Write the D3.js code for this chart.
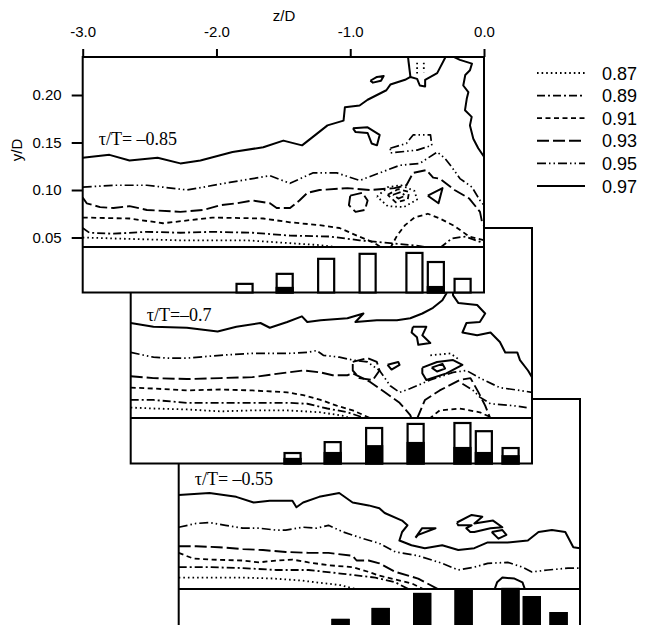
<!DOCTYPE html>
<html><head><meta charset="utf-8">
<script src="https://cdn.jsdelivr.net/npm/d3@7"></script>
<style>body{margin:0;background:#fff}</style>
</head><body><svg id="c" width="656" height="625"></svg>
<script>
// ---------- data ----------
const levels = [0.87, 0.89, 0.91, 0.93, 0.95, 0.97];
const panelLabels = ["\u03C4/T= \u20130.85", "\u03C4/T=\u20130.7", "\u03C4/T= \u20130.55"];
const xTicks = [-3, -2, -1, 0];
const yTicks = [0.05, 0.10, 0.15, 0.20];
const barZ = [-1.79, -1.49, -1.18, -0.87, -0.52, -0.36, -0.16];
const barTotal085 = [0.19, 0.41, 0.74, 0.85, 0.87, 0.67, 0.30];
const barBlack085 = [0.00, 0.10, 0.00, 0.00, 0.00, 0.12, 0.00];
const barTotal070 = [0.23, 0.47, 0.78, 0.87, 0.89, 0.71, 0.34];
const barBlack070 = [0.10, 0.23, 0.38, 0.45, 0.34, 0.23, 0.16];
const barTotal055 = [0.32, 0.56, 0.89, 0.96, 1.00, 0.82, 0.47];
const barBlack055 = [0.32, 0.56, 0.89, 0.96, 1.00, 0.82, 0.47];

const contours085 = [
 {lv:0.97, pts:[[-3.0,0.134],[-2.80,0.137],[-2.65,0.131],[-2.44,0.134],[-2.27,0.128],[-2.12,0.131],[-1.88,0.140],[-1.65,0.145],[-1.50,0.152],[-1.36,0.147],[-1.26,0.158],[-1.17,0.168],[-1.05,0.173],[-1.04,0.187],[-0.93,0.189],[-0.87,0.195],[-0.73,0.205],[-0.70,0.211],[-0.59,0.216],[-0.55,0.219],[-0.50,0.217],[-0.48,0.210],[-0.44,0.209],[-0.44,0.216],[-0.35,0.223],[-0.28,0.242]]},
 {lv:0.97, pts:[[-0.55,0.219],[-0.57,0.242]]},
 {lv:0.97, pts:[[-0.254,0.242],[-0.18,0.237],[-0.09,0.233],[-0.105,0.226],[-0.14,0.221],[-0.155,0.210],[-0.117,0.203],[-0.129,0.196],[-0.142,0.184],[-0.092,0.177],[-0.105,0.168],[-0.08,0.154],[-0.043,0.144],[0.0,0.135]]},
 {lv:0.97, closed:true, pts:[[-0.85,0.215],[-0.80,0.219],[-0.75,0.220],[-0.77,0.215],[-0.83,0.213]]},
 {lv:0.97, closed:true, pts:[[-0.98,0.165],[-0.87,0.166],[-0.78,0.158],[-0.80,0.147],[-0.84,0.149],[-0.87,0.160],[-0.96,0.161]]},
 {lv:0.97, closed:true, pts:[[-0.42,0.094],[-0.31,0.102],[-0.34,0.086]]},
 {lv:0.95, pts:[[-3.0,0.103],[-2.77,0.105],[-2.52,0.105],[-2.22,0.100],[-1.90,0.108],[-1.60,0.115],[-1.45,0.107],[-1.28,0.118],[-1.10,0.118],[-0.93,0.110],[-0.78,0.118],[-0.63,0.126],[-0.48,0.128],[-0.35,0.140],[-0.29,0.133],[-0.24,0.124],[-0.18,0.112],[-0.09,0.103],[-0.03,0.089],[0.0,0.084]]},
 {lv:0.95, closed:true, pts:[[-0.70,0.144],[-0.58,0.149],[-0.53,0.158],[-0.40,0.158],[-0.39,0.147],[-0.50,0.142],[-0.70,0.139]]},
 {lv:0.93, pts:[[-3.0,0.092],[-2.97,0.086],[-2.87,0.082],[-2.77,0.081],[-2.65,0.083],[-2.52,0.079],[-2.27,0.077],[-2.10,0.079],[-1.97,0.084],[-1.85,0.086],[-1.73,0.089],[-1.60,0.086],[-1.55,0.081],[-1.45,0.081],[-1.38,0.089],[-1.32,0.097],[-1.23,0.100],[-1.02,0.102],[-0.85,0.100],[-0.67,0.102],[-0.58,0.105],[-0.53,0.118],[-0.43,0.121],[-0.38,0.113],[-0.33,0.112],[-0.22,0.100],[-0.11,0.091],[-0.03,0.077],[-0.01,0.063]]},
 {lv:0.93, closed:true, pts:[[-1.00,0.094],[-0.91,0.097],[-0.87,0.089],[-0.89,0.079],[-0.96,0.077],[-1.01,0.084]]},
 {lv:0.91, pts:[[-3.0,0.071],[-2.65,0.070],[-2.40,0.065],[-2.03,0.071],[-1.65,0.070],[-1.45,0.066],[-1.23,0.063],[-1.08,0.060],[-0.95,0.052],[-0.83,0.045],[-0.76,0.039]]},
 {lv:0.91, pts:[[-0.70,0.039],[-0.65,0.052],[-0.59,0.063],[-0.52,0.071],[-0.42,0.075],[-0.33,0.070],[-0.22,0.062],[-0.11,0.051],[0.0,0.047]]},
 {lv:0.91, closed:true, pts:[[-0.72,0.095],[-0.64,0.101],[-0.56,0.098],[-0.57,0.090],[-0.66,0.087]]},
 {lv:0.89, pts:[[-3.0,0.060],[-2.95,0.055],[-2.77,0.054],[-2.52,0.056],[-2.27,0.055],[-2.03,0.056],[-1.73,0.055],[-1.45,0.052],[-1.15,0.051],[-0.93,0.047],[-0.70,0.044],[-0.48,0.041],[-0.40,0.039]]},
 {lv:0.89, pts:[[-0.33,0.039],[-0.24,0.049],[-0.14,0.051],[0.0,0.044]]},
 {lv:0.89, closed:true, pts:[[-0.68,0.095],[-0.62,0.098],[-0.59,0.094],[-0.64,0.091]]},
 {lv:0.87, pts:[[-3.0,0.050],[-2.77,0.049],[-2.52,0.048],[-2.27,0.047],[-2.03,0.047],[-1.77,0.047],[-1.45,0.044],[-1.23,0.042],[-1.04,0.039]]},
 {lv:0.87, closed:true, pts:[[-0.80,0.093],[-0.72,0.103],[-0.62,0.105],[-0.52,0.099],[-0.50,0.090],[-0.60,0.082],[-0.72,0.083]]},
 {lv:0.87, pts:[[-0.50,0.234],[-0.50,0.222]]},
 {lv:0.87, pts:[[-0.45,0.234],[-0.45,0.224]]}
];

const contours070 = [
 {lv:0.97, pts:[[-3.0,0.140],[-2.83,0.136],[-2.58,0.135],[-2.35,0.131],[-2.21,0.136],[-2.03,0.140],[-1.96,0.135],[-1.83,0.141],[-1.72,0.147],[-1.68,0.141],[-1.58,0.143],[-1.38,0.145],[-1.26,0.150],[-1.32,0.141],[-1.16,0.143],[-1.01,0.143],[-0.91,0.145],[-0.82,0.150],[-0.74,0.156],[-0.67,0.164],[-0.64,0.171],[-0.62,0.20]]},
 {lv:0.97, pts:[[-0.60,0.20],[-0.59,0.169],[-0.55,0.161],[-0.41,0.159],[-0.35,0.150],[-0.39,0.141],[-0.49,0.140],[-0.52,0.130],[-0.41,0.127],[-0.31,0.130],[-0.24,0.120],[-0.20,0.109],[-0.11,0.109],[-0.09,0.101],[-0.03,0.090],[0.0,0.083]]},
 {lv:0.97, closed:true, pts:[[-0.89,0.136],[-0.79,0.136],[-0.82,0.127],[-0.76,0.119],[-0.85,0.117],[-0.86,0.125],[-0.90,0.130]]},
 {lv:0.97, closed:true, pts:[[-1.08,0.096],[-1.00,0.099],[-0.99,0.096],[-1.05,0.091]]},
 {lv:0.97, closed:true, pts:[[-0.82,0.093],[-0.71,0.099],[-0.59,0.101],[-0.52,0.096],[-0.64,0.087],[-0.79,0.080],[-0.82,0.087]]},
 {lv:0.97, closed:true, pts:[[-0.75,0.093],[-0.67,0.097],[-0.65,0.092],[-0.71,0.089]]},
 {lv:0.87, pts:[[-0.76,0.106],[-0.61,0.108],[-0.54,0.101]]},
 {lv:0.95, pts:[[-3.0,0.109],[-2.83,0.104],[-2.71,0.103],[-2.58,0.103],[-2.33,0.106],[-2.09,0.108],[-1.83,0.108],[-1.68,0.109],[-1.61,0.111],[-1.56,0.106],[-1.44,0.104],[-1.34,0.101],[-1.23,0.099],[-1.14,0.090],[-1.06,0.074],[-0.99,0.067],[-0.91,0.071],[-0.76,0.080],[-0.59,0.088],[-0.49,0.090],[-0.39,0.082],[-0.24,0.072],[-0.09,0.069],[0.0,0.067]]},
 {lv:0.95, pts:[[-0.52,0.076],[-0.44,0.069],[-0.39,0.062],[-0.31,0.055],[-0.14,0.053],[-0.04,0.051]]},
 {lv:0.93, closed:true, pts:[[-1.34,0.099],[-1.23,0.103],[-1.16,0.099],[-1.14,0.090],[-1.19,0.080],[-1.29,0.082],[-1.34,0.090]]},
 {lv:0.93, pts:[[-3.0,0.084],[-2.83,0.082],[-2.58,0.081],[-2.33,0.082],[-2.09,0.083],[-1.88,0.087],[-1.71,0.090],[-1.58,0.088],[-1.49,0.085],[-1.38,0.085],[-1.34,0.087],[-1.21,0.078],[-1.10,0.067],[-0.99,0.056],[-0.91,0.043],[-0.90,0.039]]},
 {lv:0.93, pts:[[-0.86,0.039],[-0.80,0.059],[-0.69,0.069],[-0.54,0.080],[-0.46,0.082],[-0.40,0.067],[-0.35,0.053],[-0.31,0.039]]},
 {lv:0.91, pts:[[-3.0,0.072],[-2.83,0.071],[-2.58,0.069],[-2.33,0.070],[-2.09,0.069],[-1.83,0.067],[-1.71,0.064],[-1.58,0.059],[-1.46,0.053],[-1.34,0.048],[-1.21,0.040],[-1.19,0.039]]},
 {lv:0.91, pts:[[-0.77,0.039],[-0.69,0.048],[-0.54,0.050],[-0.39,0.046],[-0.28,0.039]]},
 {lv:0.89, pts:[[-3.0,0.059],[-2.83,0.059],[-2.58,0.056],[-2.33,0.056],[-2.09,0.056],[-1.83,0.056],[-1.68,0.055],[-1.53,0.050],[-1.38,0.046],[-1.25,0.040],[-1.23,0.039]]},
 {lv:0.87, pts:[[-3.0,0.051],[-2.83,0.050],[-2.58,0.049],[-2.33,0.047],[-2.09,0.048],[-1.83,0.048],[-1.58,0.046],[-1.40,0.042],[-1.35,0.039]]}
];

const contours055 = [
 {lv:0.97, pts:[[-3.0,0.139],[-2.77,0.141],[-2.57,0.137],[-2.44,0.131],[-2.32,0.133],[-2.15,0.133],[-2.12,0.126],[-2.07,0.131],[-1.95,0.137],[-1.80,0.141],[-1.70,0.131],[-1.58,0.128],[-1.50,0.125],[-1.46,0.120],[-1.33,0.112],[-1.29,0.107],[-1.33,0.100],[-1.35,0.091],[-1.26,0.086],[-1.16,0.083],[-1.03,0.086],[-0.91,0.081],[-0.79,0.083],[-0.69,0.089],[-0.54,0.089],[-0.39,0.091],[-0.31,0.100],[-0.21,0.102],[-0.11,0.100],[-0.05,0.084],[0.0,0.083]]},
 {lv:0.97, closed:true, pts:[[-1.23,0.094],[-1.18,0.104],[-1.08,0.104],[-1.21,0.097]]},
 {lv:0.97, closed:true, pts:[[-0.92,0.110],[-0.81,0.118],[-0.73,0.116],[-0.79,0.109],[-0.65,0.112],[-0.58,0.105],[-0.67,0.104],[-0.79,0.100],[-0.82,0.100],[-0.85,0.104],[-0.81,0.107],[-0.91,0.107]]},
 {lv:0.97, closed:true, pts:[[-0.66,0.100],[-0.58,0.102],[-0.55,0.097],[-0.61,0.093]]},
 {lv:0.97, pts:[[-0.64,0.039],[-0.62,0.047],[-0.58,0.052],[-0.49,0.051],[-0.43,0.047],[-0.41,0.039]]},
 {lv:0.95, pts:[[-3.0,0.105],[-2.87,0.109],[-2.77,0.110],[-2.65,0.107],[-2.52,0.104],[-2.40,0.104],[-2.27,0.102],[-2.20,0.102],[-2.07,0.105],[-1.97,0.104],[-1.88,0.107],[-1.77,0.100],[-1.62,0.093],[-1.50,0.088],[-1.38,0.079],[-1.21,0.075],[-1.03,0.067],[-0.91,0.060],[-0.79,0.063],[-0.69,0.067],[-0.54,0.068],[-0.43,0.063],[-0.36,0.058],[-0.24,0.060],[-0.09,0.062],[0.0,0.062]]},
 {lv:0.93, pts:[[-3.0,0.085],[-2.87,0.085],[-2.70,0.084],[-2.52,0.082],[-2.37,0.081],[-2.20,0.079],[-2.03,0.078],[-1.88,0.078],[-1.70,0.075],[-1.67,0.070],[-1.58,0.070],[-1.50,0.067],[-1.38,0.058],[-1.21,0.051],[-1.05,0.039]]},
 {lv:0.91, pts:[[-3.0,0.078],[-2.89,0.072],[-2.77,0.071],[-2.52,0.070],[-2.40,0.068],[-2.27,0.070],[-2.15,0.071],[-2.03,0.068],[-1.88,0.065],[-1.70,0.063],[-1.58,0.058],[-1.50,0.054],[-1.38,0.050],[-1.26,0.046],[-1.16,0.039]]},
 {lv:0.89, pts:[[-3.0,0.063],[-2.77,0.063],[-2.52,0.062],[-2.27,0.060],[-2.03,0.060],[-1.77,0.056],[-1.53,0.052],[-1.38,0.047],[-1.27,0.039]]},
 {lv:0.87, pts:[[-3.0,0.052],[-2.77,0.052],[-2.52,0.052],[-2.29,0.051],[-2.09,0.049],[-1.79,0.044],[-1.65,0.039]]}
];

const panels = [
 {label: panelLabels[0], contours: contours085, total: barTotal085, black: barBlack085},
 {label: panelLabels[1], contours: contours070, total: barTotal070, black: barBlack070},
 {label: panelLabels[2], contours: contours055, total: barTotal055, black: barBlack055}
];

// ---------- styles / layout ----------
const dashFor = {0.87:"1.6,3", 0.89:"8,3,2,3", 0.91:"5,3.5", 0.93:"12,4", 0.95:"9,3,1.5,3,1.5,3", 0.97:null};
const widthFor = {0.87:1.8, 0.89:1.8, 0.91:1.8, 0.93:1.9, 0.95:1.7, 0.97:2.0};
const labelDrop = [88, 93, 86];
const sans = "'Liberation Sans', Arial, sans-serif";
const serif = "'Liberation Serif', 'Times New Roman', serif";

const svg = d3.select("#c");
const x = d3.scaleLinear().domain([-3, 0]).range([82.7, 484]);
const y = d3.scaleLinear().domain([0.04, 0.24]).range([247, 57]);
const b = d3.scaleLinear().domain([0, 1]).range([292.5, 247]);
const line = d3.line().x(d => x(d[0])).y(d => y(d[1]));

svg.append("defs").append("clipPath").attr("id", "cclip")
  .append("rect").attr("x", x(-3)).attr("y", y(0.24))
  .attr("width", x(0) - x(-3)).attr("height", y(0.04) - y(0.24));

function drawPanel(i) {
  const p = panels[i];
  const g = svg.append("g").attr("transform", `translate(${48 * i},${171 * i})`);
  g.append("rect").attr("x", x(-3)).attr("y", y(0.24))
    .attr("width", x(0) - x(-3)).attr("height", b(0) - y(0.24))
    .attr("fill", "#fff").attr("stroke", "#000").attr("stroke-width", 2);

  const cg = g.append("g").attr("clip-path", "url(#cclip)");
  p.contours.forEach(c => {
    const pts = c.closed ? c.pts.concat([c.pts[0]]) : c.pts;
    cg.append("path").attr("d", line(pts)).attr("fill", "none")
      .attr("stroke", "#000").attr("stroke-width", widthFor[c.lv])
      .attr("stroke-dasharray", dashFor[c.lv]).attr("stroke-linejoin", "round");
  });

  g.append("line").attr("x1", x(-3)).attr("x2", x(0)).attr("y1", y(0.04)).attr("y2", y(0.04))
    .attr("stroke", "#000").attr("stroke-width", 2.2);

  const bw = 0.12;
  barZ.forEach((z, k) => {
    g.append("rect").attr("x", x(z - bw / 2)).attr("width", x(z + bw / 2) - x(z - bw / 2))
      .attr("y", b(p.total[k])).attr("height", b(0) - b(p.total[k]))
      .attr("fill", "#fff").attr("stroke", "#000").attr("stroke-width", 2.2);
    if (p.black[k] > 0) {
      g.append("rect").attr("x", x(z - bw / 2)).attr("width", x(z + bw / 2) - x(z - bw / 2))
        .attr("y", b(p.black[k])).attr("height", b(0) - b(p.black[k]))
        .attr("fill", "#000").attr("stroke", "#000").attr("stroke-width", 2.2);
    }
  });

  g.append("text").attr("x", x(-3) + 16).attr("y", y(0.24) + labelDrop[i])
    .attr("font-family", serif).attr("font-size", 18).text(p.label);

  if (i === 0) {
    const ax = g.append("g").attr("transform", `translate(0,${y(0.24)})`)
      .call(d3.axisTop(x).tickValues(xTicks).tickSize(8).tickPadding(12).tickFormat(d => d.toFixed(1)));
    const ay = g.append("g").attr("transform", `translate(${x(-3)},0)`)
      .call(d3.axisLeft(y).tickValues(yTicks).tickSize(11).tickPadding(10).tickFormat(d => d.toFixed(2)));
    [ax, ay].forEach(a => {
      a.select(".domain").remove();
      a.selectAll("line").attr("stroke-width", 2);
      a.selectAll("text").attr("font-family", sans).attr("font-size", 15).attr("fill", "#000");
    });
    g.append("text").attr("x", 284).attr("y", 21).attr("text-anchor", "middle")
      .attr("font-family", sans).attr("font-size", 15).text("z/D");
    g.append("text").attr("transform", "translate(22,150) rotate(-90)").attr("text-anchor", "middle")
      .attr("font-family", sans).attr("font-size", 15).text("y/D");
  }
}
[2, 1, 0].forEach(drawPanel);

// legend
const lg = svg.append("g");
levels.forEach((lv, k) => {
  const yy = 73 + 22.6 * k;
  lg.append("line").attr("x1", 537).attr("x2", 585).attr("y1", yy).attr("y2", yy)
    .attr("stroke", "#000").attr("stroke-width", widthFor[lv]).attr("stroke-dasharray", dashFor[lv]);
  lg.append("text").attr("x", 602).attr("y", yy + 6.5).attr("font-family", sans)
    .attr("font-size", 18).text(lv.toFixed(2));
});
</script></body></html>
